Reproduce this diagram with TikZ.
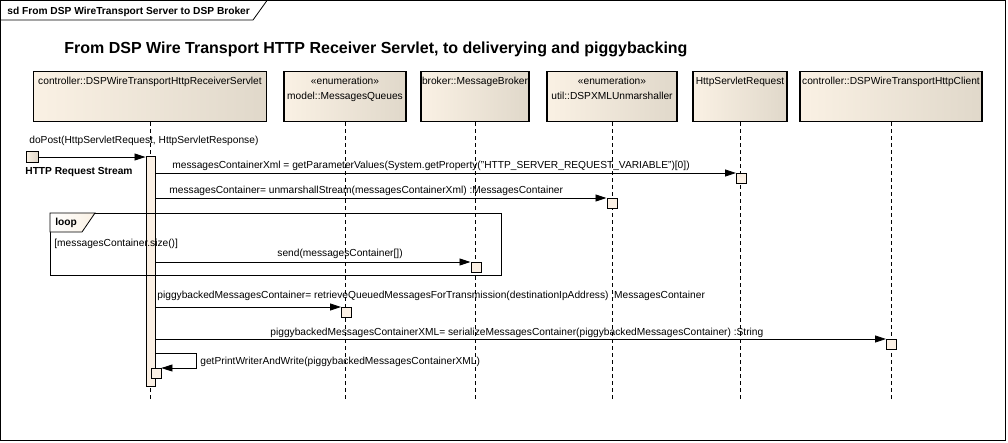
\documentclass[tikz,border=0pt]{standalone}
\usepackage{fontspec}
\setmainfont{Liberation Sans}
\usetikzlibrary{arrows.meta,positioning}
\definecolor{headL}{RGB}{250,241,228}
\definecolor{headR}{RGB}{224,216,202}
\definecolor{actfill}{RGB}{251,240,228}

\begin{document}
\begin{tikzpicture}[x=1pt, y=-1pt, line width=.8pt,
  every node/.append style={inner sep=0pt, font=\fontsize{10.2}{12}\selectfont},
  bold/.style={font=\fontsize{10.2}{12}\selectfont\bfseries},
  head/.style={draw, line width=1.1pt, left color=headL, right color=headR, minimum height=50pt},
  act/.style={draw, fill=actfill, line width=.9pt, minimum size=10pt, anchor=north west},
  lifeline/.style={dash pattern=on 4pt off 3pt},
  msg/.style={-{Triangle[length=11pt,width=7pt]}},
  txt/.style={anchor=base west}]
\useasboundingbox (0,0) rectangle (1008,442);
% frame and title
\draw (0.5,0.5) rectangle (1005.5,440.5);
\draw[fill=white] (0.5,0.5) -- (267,0.5) -- (253,20) -- (0.5,20) -- cycle;
\node[txt, bold] (sd) at (7,14) {sd From DSP WireTransport Server to DSP Broker};
\node[txt, font=\fontsize{16}{18}\selectfont\bfseries] (title) at (64,53)
  {From DSP Wire Transport HTTP Receiver Servlet, to deliverying and piggybacking};
% lifelines
\foreach \n/\x/\w/\yb/\t in {servlet/150/233/84/{controller::DSPWireTransportHttpReceiverServlet},
  queues/345/122/99/{model::MessagesQueues},
  broker/475/108/84/{broker::MessageBroker},
  unmarsh/612/130/99/{util::DSPXMLUnmarshaller},
  request/740/94/84/{HttpServletRequest},
  client/891/182/84/{controller::DSPWireTransportHttpClient}}
{
  \node[head, minimum width=\w] (\n) at (\x,96.5) {};
  \node[anchor=base] (\n-name) at (\x,\yb) {\t};
  \coordinate (\n-end) at (\x,402);
  \draw[lifeline] (\n) -- (\n-end);
}
\node[anchor=base] (queues-st) at (queues.center |- 0,84) {«enumeration»};
\node[anchor=base] (unmarsh-st) at (unmarsh.center |- 0,84) {«enumeration»};
% activation of the servlet
\node[act, anchor=north, minimum width=9pt, minimum height=230pt] (bar) at (150.5,156) {};
% incoming request
\node[head, line width=.9pt, minimum width=12pt, minimum height=11pt] (stream) at (32,157) {};
\draw[msg] (stream.east) -- (bar.west |- stream.east);
\node[txt] (doPost) at (29,143) {doPost(HttpServletRequest, HttpServletResponse)};
\node[txt, bold] (stream-lbl) at (25,174) {HTTP Request Stream};
% calls
\foreach \n/\y/\bx/\lx/\ly/\t in {
  getparam/173/736/172/168/{messagesContainerXml = getParameterValues(System.getProperty("HTTP\_SERVER\_REQUEST\_VARIABLE")[0])},
  unmarshall/198/606.5/169/193/{messagesContainer= unmarshallStream(messagesContainerXml) :MessagesContainer},
  send/262/470.5/277/256/{send(messagesContainer[])},
  retrieve/307/341/157/298/{piggybackedMessagesContainer= retrieveQueuedMessagesForTransmission(destinationIpAddress) :MessagesContainer},
  serialize/339/886/270/335/{piggybackedMessagesContainerXML= serializeMessagesContainer(piggybackedMessagesContainer) :String}}
{
  \node[act] (\n-box) at (\bx,\y) {};
  \draw[msg] (bar.east |- \n-box.north west) -- (\n-box.north west);
  \node[txt] (\n-lbl) at (\lx,\ly) {\t};
}
% self call
\coordinate (selfturn) at (196,353);
\node[act] (write-box) at (150.5,368) {};
\draw[msg] (bar.east |- selfturn) -- (selfturn) |- (write-box.north east);
\node[txt] (write-lbl) at (200,364) {getPrintWriterAndWrite(piggybackedMessagesContainerXML)};
% loop fragment
\coordinate (loopNW) at (50,213);
\coordinate (loopSE) at (501,275);
\draw (loopNW) rectangle (loopSE);
\draw[left color=white, right color=headL] (loopNW) -- ++(45,0) -- ++(-13,19) -- ++(-32,0) -- cycle;
\node[txt, bold] (loop) at (55,225) {loop};
\node[txt] (guard) at (54,246) {[messagesContainer.size()]};
\end{tikzpicture}
\end{document}
